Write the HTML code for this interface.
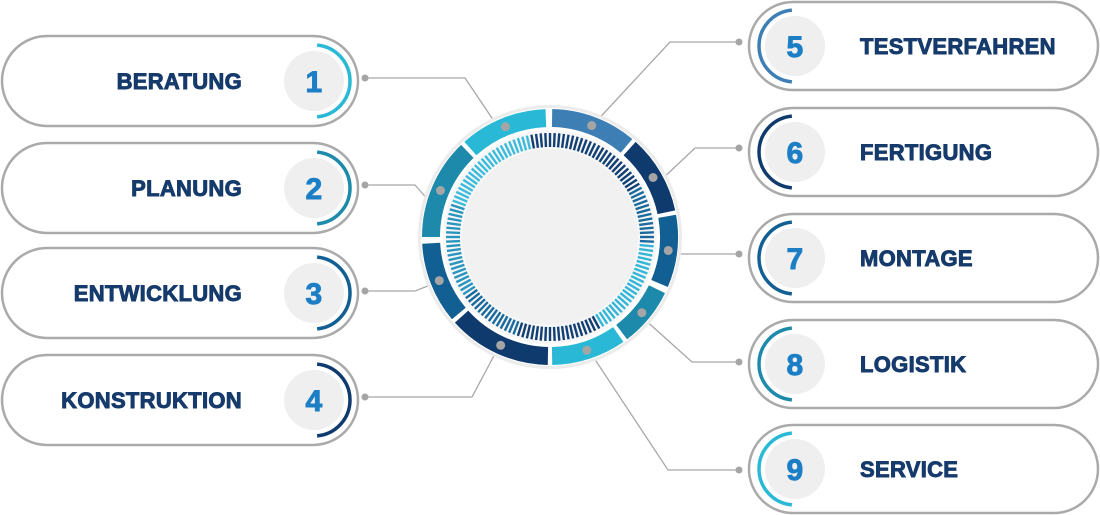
<!DOCTYPE html>
<html><head><meta charset="utf-8"><style>
html,body{margin:0;padding:0;background:#fff;width:1100px;height:515px;overflow:hidden}
svg text{font-family:"Liberation Sans",sans-serif;font-weight:bold}
</style></head><body>
<svg id="s" width="1100" height="515" viewBox="0 0 1100 515" xmlns="http://www.w3.org/2000/svg">
<g id="conn" stroke="#a8a8a8" stroke-width="1.3" fill="none">
<polyline points="366,78 465,78 498,127"/>
<polyline points="366,185 415,185 437,210"/>
<polyline points="366,291 415,291 438,282"/>
<polyline points="366,397 472,397 497,350"/>
<polyline points="738,42 670,42 592,126"/>
<polyline points="738,148 695,148 658,183"/>
<polyline points="738,254 670,254"/>
<polyline points="738,362 692,362 643,318"/>
<polyline points="738,470 668,470 592,355"/>
</g>
<circle cx="550" cy="237" r="132" fill="#ececec"/>
<circle cx="550" cy="237" r="129" fill="#fff"/>
<g id="segs"></g>
<circle cx="550" cy="237" r="107" fill="#f7f7f7"/>
<g id="ticks"></g>
<circle cx="550" cy="237" r="88" fill="#f1f1f1"/>
<g id="dots" fill="#a5a5a5"></g>
<g id="pills"></g>
</svg>
<script>
var NS="http://www.w3.org/2000/svg",cx=550,cy=237;
function el(t,a,p){var e=document.createElementNS(NS,t);for(var k in a)e.setAttribute(k,a[k]);(p||document.getElementById('s')).appendChild(e);return e;}
function pt(r,a){a=(a-90)*Math.PI/180;return [cx+r*Math.cos(a),cy+r*Math.sin(a)];}
var segs=[[1,40,'#3d7fb5'],[42,78,'#0f3a6e'],[80,113,'#125f93'],[116,143,'#1e8aab'],[145,179,'#29b9d6'],[181,228,'#0f3a6e'],[230,267,'#125f93'],[270,316,'#1e8aab'],[318,358,'#29b9d6']];
var sg=document.getElementById('segs'),dg=document.getElementById('dots');
segs.forEach(function(s){var r1=128,r0=110;var a=pt(r1,s[0]),b=pt(r1,s[1]),c=pt(r0,s[1]),d=pt(r0,s[0]);
el('path',{d:'M'+a+' A'+r1+' '+r1+' 0 0 1 '+b+' L'+c+' A'+r0+' '+r0+' 0 0 0 '+d+'Z',fill:s[2]},sg);
var m=pt(119,(s[0]+s[1])/2);el('circle',{cx:m[0],cy:m[1],r:4.5},dg);});
var tg=document.getElementById('ticks');
for(var i=0;i<140;i++){var ang=i*360/140;var col;
if(ang<60||ang>=348)col='#123f74';else if(ang<95)col='#1a6a9e';else if(ang<150)col='#35b6d8';else if(ang<200)col='#123f74';else if(ang<235)col='#1a6a9e';else if(ang<290)col='#2a95bf';else col='#3cbbdc';
var a=pt(104,ang),b=pt(90,ang);el('line',{x1:a[0],y1:a[1],x2:b[0],y2:b[1],stroke:col,'stroke-width':2.4},tg);}
var pg=document.getElementById('pills');
var L=[['BERATUNG','1',36,'#29b9d6'],['PLANUNG','2',143,'#1e8aab'],['ENTWICKLUNG','3',248,'#125f93'],['KONSTRUKTION','4',355,'#0f3a6e']];
var R=[['TESTVERFAHREN','5',2,'#3d7fb5'],['FERTIGUNG','6',108,'#0f3a6e'],['MONTAGE','7',214,'#125f93'],['LOGISTIK','8',320,'#1e8aab'],['SERVICE','9',425,'#29b9d6']];
function arc(x,y,r,a0,a1,col){var a=[x+r*Math.cos(a0*Math.PI/180),y+r*Math.sin(a0*Math.PI/180)],b=[x+r*Math.cos(a1*Math.PI/180),y+r*Math.sin(a1*Math.PI/180)];
el('path',{d:'M'+a+' A'+r+' '+r+' 0 0 1 '+b,stroke:col,'stroke-width':3.5,fill:'none'},pg);}
function txt(x,y,anchor,size,fill,s){var t=el('text',{x:x,y:y,'text-anchor':anchor,'font-size':size,fill:fill,stroke:fill,'stroke-width':0.9,'letter-spacing':'0.3'},pg);t.textContent=s;}
L.forEach(function(p){var y=p[2];el('rect',{x:2,y:y,width:356,height:90,rx:45,fill:'#fff',stroke:'#aaa','stroke-width':2.5},pg);
var ccy=y+45;el('circle',{cx:314,cy:ccy,r:30,fill:'#efefef'},pg);arc(314,ccy,36,-85,85,p[3]);
txt(314,ccy+11,'middle',30,'#1c7fc6',p[1]);
txt(242,ccy+8,'end',22,'#153a6b',p[0]);
el('circle',{cx:365,cy:[78,185,291,397][+p[1]-1],r:3.5,fill:'#a5a5a5'},pg);});
R.forEach(function(p){var y=p[2];el('rect',{x:749,y:y,width:349,height:88,rx:44,fill:'#fff',stroke:'#aaa','stroke-width':2.5},pg);
var ccy=y+44;el('circle',{cx:795,cy:ccy,r:30,fill:'#efefef'},pg);arc(795,ccy,36,95,265,p[3]);
txt(795,ccy+11,'middle',30,'#1c7fc6',p[1]);
txt(860,ccy+8,'start',22,'#153a6b',p[0]);
el('circle',{cx:739,cy:[42,148,254,362,470][+p[1]-5],r:3.5,fill:'#a5a5a5'},pg);});
</script>
</body></html>
